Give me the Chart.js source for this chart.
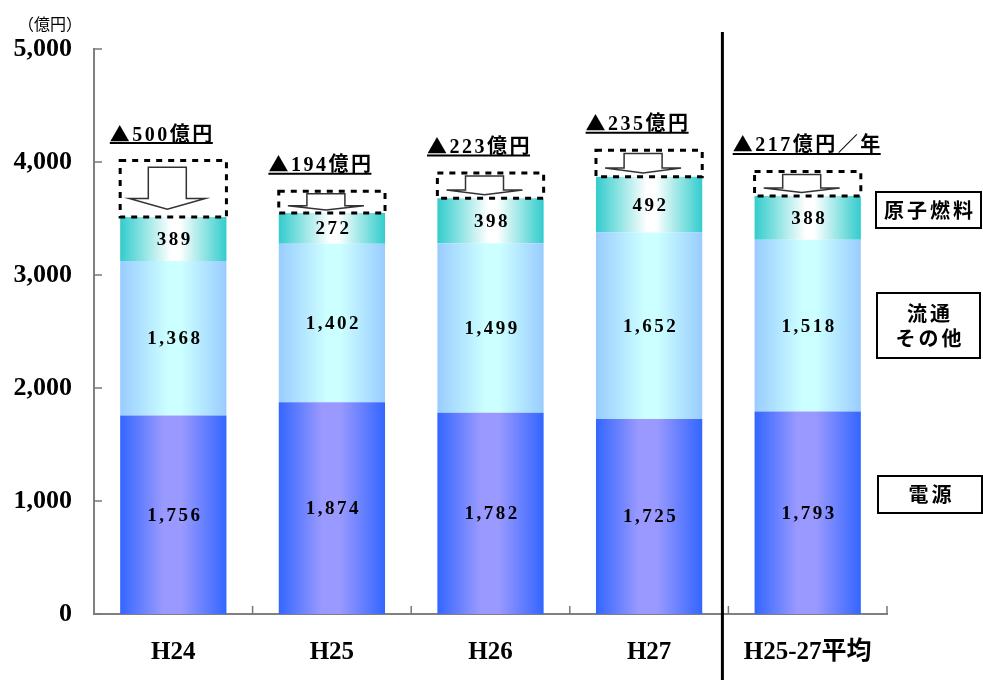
<!DOCTYPE html>
<html lang="ja">
<head>
<meta charset="utf-8">
<title>費用の推移</title>
<script src="https://cdn.jsdelivr.net/npm/chart.js@4.4.1/dist/chart.umd.min.js"></script>
<style>
  html, body { margin: 0; padding: 0; background: #fff; }
  canvas { display: block; }
</style>
</head>
<body>
<canvas id="costChart" width="983" height="680"></canvas>
<script>
// values (億円)
const categories = ['H24', 'H25', 'H26', 'H27', 'H25-27平均'];
const powerValues = [1756, 1874, 1782, 1725, 1793];
const distributionValues = [1368, 1402, 1499, 1652, 1518];
const fuelValues = [389, 272, 398, 492, 388];
const reductionValues = [500, 194, 223, 235, 217];
const reductionLabels = ['▲500億円', '▲194億円', '▲223億円', '▲235億円', '▲217億円／年'];
const seriesNames = ['電源', '流通\nその他', '原子燃料'];
const yMax = 5000;
const yStep = 1000;
const unitLabel = '（億円）';

const SERIF = '"Liberation Serif", "Noto Sans CJK JP", serif';
const GOTHIC = '"Noto Sans CJK JP", sans-serif';
const BAR_PCT = 0.67;

// horizontal shading so each bar looks like a cylinder
const gradientStops = [
  [[0, '#3366ff'], [0.4, '#9999ff'], [0.58, '#9999ff'], [1, '#3366ff']],
  [[0, '#99ccff'], [0.45, '#ccffff'], [0.58, '#ccffff'], [1, '#99ccff']],
  [[0, '#33cccc'], [0.48, '#ffffff'], [0.56, '#ffffff'], [1, '#33cccc']],
];

function barFill(series) {
  return (context) => {
    const chart = context.chart;
    const xScale = chart.scales.x;
    if (!chart.chartArea || !xScale || context.dataIndex == null) {
      return gradientStops[series][0][1];
    }
    const cx = xScale.getPixelForValue(context.dataIndex);
    const w = xScale.width / categories.length * BAR_PCT;
    const g = chart.ctx.createLinearGradient(cx - w / 2, 0, cx + w / 2, 0);
    gradientStops[series].forEach(([at, color]) => g.addColorStop(at, color));
    return g;
  };
}

function fmt(v) {
  return v.toLocaleString('en-US');
}

// "▲" is drawn with the gothic face so it comes out full width
function drawReductionLabel(ctx, text, cx, baseline) {
  const mark = text.charAt(0);
  const rest = text.slice(1);
  ctx.letterSpacing = '2.5px';
  ctx.font = 'bold 20px ' + GOTHIC;
  const mw = ctx.measureText(mark).width;
  ctx.font = 'bold 20px ' + SERIF;
  const rw = ctx.measureText(rest).width;
  const left = cx - (mw + rw) / 2;
  ctx.textAlign = 'left';
  ctx.textBaseline = 'alphabetic';
  ctx.font = 'bold 20px ' + GOTHIC;
  ctx.fillText(mark, left, baseline + 1);
  ctx.font = 'bold 20px ' + SERIF;
  ctx.fillText(rest, left + mw, baseline);
  return { left, right: left + mw + rw - 2 };
}

const decorations = {
  id: 'decorations',
  afterDatasetsDraw(chart) {
    const ctx = chart.ctx;
    const y = chart.scales.y;
    ctx.save();

    // values inside each segment
    ctx.font = 'bold 19px ' + SERIF;
    ctx.letterSpacing = '2.5px';
    ctx.fillStyle = '#000';
    ctx.textAlign = 'center';
    ctx.textBaseline = 'middle';
    chart.data.datasets.forEach((ds, i) => {
      chart.getDatasetMeta(i).data.forEach((bar, j) => {
        ctx.fillText(fmt(ds.data[j]), bar.x + 1.5, (bar.y + bar.base) / 2 + 1);
      });
    });

    // reduction box with down arrow on top of each stack
    const topMeta = chart.getDatasetMeta(chart.data.datasets.length - 1);
    topMeta.data.forEach((bar, j) => {
      const total = powerValues[j] + distributionValues[j] + fuelValues[j];
      const yBottom = y.getPixelForValue(total);
      const yTop = y.getPixelForValue(total + reductionValues[j]);
      const h = yBottom - yTop;
      const left = bar.x - bar.width / 2;
      const cx = bar.x - 6;

      const shaftTop = yTop + 0.12 * h;
      const headBase = yTop + 0.67 * h;
      const tip = yTop + 0.86 * h;
      ctx.setLineDash([]);
      ctx.beginPath();
      ctx.moveTo(cx - 19, shaftTop);
      ctx.lineTo(cx + 19, shaftTop);
      ctx.lineTo(cx + 19, headBase);
      ctx.lineTo(cx + 38, headBase);
      ctx.lineTo(cx, tip);
      ctx.lineTo(cx - 38, headBase);
      ctx.lineTo(cx - 19, headBase);
      ctx.closePath();
      ctx.fillStyle = '#fff';
      ctx.fill();
      ctx.strokeStyle = '#333';
      ctx.lineWidth = 1.5;
      ctx.stroke();

      ctx.setLineDash([6, 6]);
      ctx.strokeStyle = '#000';
      ctx.lineWidth = 3;
      ctx.strokeRect(left, yTop, bar.width, h);
      ctx.setLineDash([]);

      // "▲xxx億円" with underline
      ctx.fillStyle = '#000';
      const lx = j < categories.length - 1 ? bar.x - 11 : bar.x;
      const span = drawReductionLabel(ctx, reductionLabels[j], lx, yTop - 20);
      ctx.lineWidth = 2;
      ctx.beginPath();
      ctx.moveTo(span.left, yTop - 17.5);
      ctx.lineTo(span.right, yTop - 17.5);
      ctx.stroke();
    });
    ctx.restore();
  },
  afterDraw(chart) {
    const ctx = chart.ctx;
    const { x, y } = chart.scales;
    const area = chart.chartArea;
    ctx.save();

    // tick marks point into the plot
    ctx.strokeStyle = '#777';
    ctx.lineWidth = 1.5;
    y.ticks.forEach((t) => {
      const py = y.getPixelForValue(t.value);
      ctx.beginPath();
      ctx.moveTo(area.left, py);
      ctx.lineTo(area.left + 8, py);
      ctx.stroke();
    });
    for (let i = 1; i <= categories.length; i++) {
      const px = x.getPixelForValue(i - 0.5);
      ctx.beginPath();
      ctx.moveTo(px, area.bottom);
      ctx.lineTo(px, area.bottom - 8);
      ctx.stroke();
    }

    // divider before the average column
    const sepX = x.getPixelForValue(categories.length - 1.5) - 6;
    ctx.strokeStyle = '#000';
    ctx.lineWidth = 3;
    ctx.beginPath();
    ctx.moveTo(sepX, 32);
    ctx.lineTo(sepX, chart.height);
    ctx.stroke();

    // series name boxes
    const boxes = [
      { series: 2, x: 876, y: 192, w: 105, h: 36 },
      { series: 1, x: 877, y: 293, w: 103, h: 65 },
      { series: 0, x: 878, y: 476, w: 104, h: 37 },
    ];
    ctx.font = 'bold 20px ' + GOTHIC;
    ctx.letterSpacing = '3px';
    ctx.textAlign = 'center';
    ctx.textBaseline = 'middle';
    boxes.forEach((b) => {
      ctx.fillStyle = '#fff';
      ctx.fillRect(b.x, b.y, b.w, b.h);
      ctx.strokeStyle = '#000';
      ctx.lineWidth = 2;
      ctx.strokeRect(b.x, b.y, b.w, b.h);
      ctx.fillStyle = '#000';
      const lines = seriesNames[b.series].split('\n');
      const lh = 25;
      const cy = b.y + b.h / 2 - (lines.length - 1) * lh / 2;
      lines.forEach((ln, k) => ctx.fillText(ln, b.x + b.w / 2 + 1.5, cy + k * lh));
    });

    // unit
    ctx.letterSpacing = '0px';
    ctx.font = '16px ' + GOTHIC;
    ctx.textAlign = 'left';
    ctx.fillText(unitLabel, 18, 24);
    ctx.restore();
  },
};

new Chart(document.getElementById('costChart'), {
  type: 'bar',
  data: {
    labels: categories,
    datasets: [
      { label: seriesNames[0], data: powerValues, backgroundColor: barFill(0) },
      { label: seriesNames[1], data: distributionValues, backgroundColor: barFill(1) },
      { label: seriesNames[2], data: fuelValues, backgroundColor: barFill(2) },
    ],
  },
  options: {
    responsive: false,
    animation: false,
    layout: { padding: { left: 0, right: 96, top: 49, bottom: 0 } },
    datasets: {
      bar: { barPercentage: BAR_PCT, categoryPercentage: 1, borderWidth: 0 },
    },
    plugins: {
      legend: { display: false },
      tooltip: { enabled: false },
    },
    scales: {
      x: {
        stacked: true,
        z: 1,
        grid: { display: false, drawTicks: false },
        border: { display: true, color: '#808080', width: 2 },
        ticks: {
          padding: 24,
          color: '#000',
          maxRotation: 0,
          autoSkip: false,
          font: { family: SERIF, size: 25, weight: 'bold' },
        },
        afterFit(scale) { scale.height = 66; },
      },
      y: {
        stacked: true,
        min: 0,
        max: yMax,
        z: 1,
        grid: { display: false, drawTicks: false },
        border: { display: true, color: '#808080', width: 2 },
        ticks: {
          stepSize: yStep,
          padding: 22,
          color: '#000',
          callback: (v) => fmt(v),
          font: { family: SERIF, size: 26, weight: 'bold' },
        },
        afterFit(scale) { scale.width = 94; },
      },
    },
  },
  plugins: [decorations],
});
</script>
</body>
</html>
